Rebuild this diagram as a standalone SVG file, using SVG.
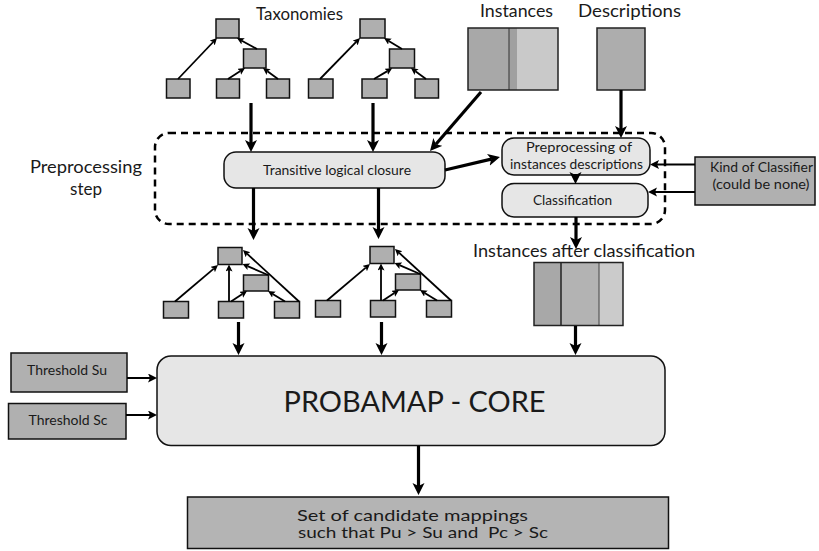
<svg xmlns="http://www.w3.org/2000/svg" width="819" height="551" viewBox="0 0 819 551">
<style>
text{font-family:Lato,"Liberation Sans",Arial,sans-serif;fill:#1a1a1a;}
.lbl{font-size:17.5px;}
.box{font-size:14px;}
.tn{fill:#afafaf;stroke:#111;stroke-width:1.5;}
.rb{fill:#e6e6e6;stroke:#111;stroke-width:1.5;}
.gb{fill:#b0b0b0;stroke:#111;stroke-width:1.5;}
.thin{stroke:#000;stroke-width:1.8;fill:none;marker-end:url(#sm);}
.thick{stroke:#000;stroke-width:3.2;fill:none;marker-end:url(#big);}
.med{stroke:#000;stroke-width:2;fill:none;marker-end:url(#md);}
</style>
<defs>
<marker id="big" markerUnits="userSpaceOnUse" markerWidth="13" markerHeight="13" refX="3" refY="6" orient="auto"><path d="M0,0 L12,6 L0,12 L3,6 z" fill="#000"/></marker>
<marker id="md" markerUnits="userSpaceOnUse" markerWidth="10" markerHeight="10" refX="2" refY="4.5" orient="auto"><path d="M0,0 L9,4.5 L0,9 L2,4.5 z" fill="#000"/></marker>
<marker id="sm" markerUnits="userSpaceOnUse" markerWidth="8" markerHeight="8" refX="1.5" refY="3.5" orient="auto"><path d="M0,0 L7,3.5 L0,7 L1.5,3.5 z" fill="#000"/></marker>
</defs>
<rect width="819" height="551" fill="#fff"/>

<!-- Preprocessing step dashed frame -->
<g id="preprocessing-step">
<rect x="155" y="133" width="510" height="91" rx="14" fill="none" stroke="#000" stroke-width="2.5" stroke-dasharray="7,5"/>
<text class="lbl" x="30" y="173" font-size="18" textLength="112" lengthAdjust="spacingAndGlyphs">Preprocessing</text>
<text class="lbl" x="70" y="195" font-size="18" textLength="32" lengthAdjust="spacingAndGlyphs">step</text>
</g>

<text class="lbl" x="256" y="20" font-size="17" textLength="87" lengthAdjust="spacingAndGlyphs">Taxonomies</text>

<!-- Taxonomy 1 -->
<g id="taxonomy1">
<rect id="t1-root" class="tn" x="216" y="19" width="23" height="19"/>
<rect id="t1-mid" class="tn" x="243.5" y="49" width="22.5" height="19"/>
<rect id="t1-b1" class="tn" x="166.5" y="79" width="23.5" height="19"/>
<rect id="t1-b2" class="tn" x="216.5" y="79" width="23" height="19"/>
<rect id="t1-b3" class="tn" x="266.5" y="79" width="23" height="19"/>
<line class="thin" x1="178" y1="79" x2="213.2" y2="42"/>
<line class="thin" x1="228" y1="79" x2="240.4" y2="71"/>
<line class="thin" x1="278" y1="79" x2="267.4" y2="71.3"/>
<line class="thin" x1="257" y1="49" x2="241.8" y2="40.7"/>
</g>

<!-- Taxonomy 2 -->
<g id="taxonomy2">
<rect id="t2-root" class="tn" x="360" y="19" width="25" height="19"/>
<rect id="t2-mid" class="tn" x="389.5" y="49" width="25" height="19"/>
<rect id="t2-b1" class="tn" x="308.5" y="79" width="24.5" height="19"/>
<rect id="t2-b2" class="tn" x="362" y="79" width="25" height="19"/>
<rect id="t2-b3" class="tn" x="415" y="79" width="23.5" height="19"/>
<line class="thin" x1="320" y1="79" x2="356.2" y2="41.9"/>
<line class="thin" x1="374" y1="79" x2="387.4" y2="71.1"/>
<line class="thin" x1="426" y1="79" x2="415.4" y2="71.3"/>
<line class="thin" x1="402" y1="49" x2="388.7" y2="40.9"/>
</g>

<!-- Instances -->
<g id="instances">
<text class="lbl" x="480" y="17" textLength="73" lengthAdjust="spacingAndGlyphs">Instances</text>
<rect x="468" y="28" width="41" height="62" fill="#a8a8a8"/>
<rect x="509" y="28" width="8" height="62" fill="#a0a0a0"/>
<rect x="517" y="28" width="41" height="62" fill="#c9c9c9"/>
<line x1="509" y1="28" x2="509" y2="90" stroke="#333" stroke-width="1"/>
<rect x="468" y="28" width="90" height="62" fill="none" stroke="#222" stroke-width="1.5"/>
</g>

<!-- Descriptions -->
<g id="descriptions">
<text class="lbl" x="578" y="17" textLength="103" lengthAdjust="spacingAndGlyphs">Descriptions</text>
<rect x="597" y="28" width="48" height="62" fill="#adadad" stroke="#222" stroke-width="1.5"/>
</g>

<!-- Transitive logical closure -->
<g id="transitive-closure">
<rect class="rb" x="224" y="152" width="221" height="36" rx="12"/>
<text class="box" x="263" y="175" textLength="148" lengthAdjust="spacingAndGlyphs">Transitive logical closure</text>
</g>

<!-- Preprocessing of instances descriptions -->
<g id="preprocessing-instances">
<rect class="rb" x="502" y="138" width="148" height="37" rx="12"/>
<text class="box" x="526" y="152" textLength="106" lengthAdjust="spacingAndGlyphs">Preprocessing of</text>
<text class="box" x="510" y="168.5" textLength="133" lengthAdjust="spacingAndGlyphs">instances descriptions</text>
</g>

<!-- Classification -->
<g id="classification">
<rect class="rb" x="502" y="183.5" width="146" height="33.5" rx="12"/>
<text class="box" x="533" y="205" textLength="79" lengthAdjust="spacingAndGlyphs">Classification</text>
</g>

<!-- Kind of classifier -->
<g id="kind-of-classifier">
<rect class="gb" x="695" y="157" width="120" height="48"/>
<text class="box" x="710" y="172" textLength="103" lengthAdjust="spacingAndGlyphs">Kind of Classifier</text>
<text class="box" x="712.5" y="188.5" textLength="97" lengthAdjust="spacingAndGlyphs">(could be none)</text>
</g>

<!-- Taxonomy 3 (after closure) -->
<g id="taxonomy3">
<rect id="t3-root" class="tn" x="218" y="247.5" width="24" height="17"/>
<rect id="t3-mid" class="tn" x="243.5" y="275" width="25" height="16"/>
<rect id="t3-b1" class="tn" x="163.5" y="301.5" width="25" height="16.5"/>
<rect id="t3-b2" class="tn" x="218.5" y="301.5" width="25" height="16.5"/>
<rect id="t3-b3" class="tn" x="274.5" y="301.5" width="25" height="16.5"/>
<line class="thin" x1="175" y1="301.5" x2="213.8" y2="268.6"/>
<line class="thin" x1="229" y1="301.5" x2="229" y2="270"/>
<line class="thin" x1="231" y1="301.5" x2="242.4" y2="294"/>
<line class="thin" x1="285" y1="301.5" x2="272.7" y2="293.9"/>
<line class="thin" x1="299" y1="301.5" x2="247" y2="253.7"/>
<line class="thin" x1="268" y1="275" x2="247.5" y2="266.2"/>
</g>

<!-- Taxonomy 4 (after closure) -->
<g id="taxonomy4" transform="translate(152,-1)">
<rect id="t4-root" class="tn" x="218" y="247.5" width="24" height="17"/>
<rect id="t4-mid" class="tn" x="243.5" y="275" width="25" height="16"/>
<rect id="t4-b1" class="tn" x="163.5" y="301.5" width="25" height="16.5"/>
<rect id="t4-b2" class="tn" x="218.5" y="301.5" width="25" height="16.5"/>
<rect id="t4-b3" class="tn" x="274.5" y="301.5" width="25" height="16.5"/>
<line class="thin" x1="175" y1="301.5" x2="213.8" y2="268.6"/>
<line class="thin" x1="229" y1="301.5" x2="229" y2="270"/>
<line class="thin" x1="231" y1="301.5" x2="242.4" y2="294"/>
<line class="thin" x1="285" y1="301.5" x2="272.7" y2="293.9"/>
<line class="thin" x1="299" y1="301.5" x2="247" y2="253.7"/>
<line class="thin" x1="268" y1="275" x2="247.5" y2="266.2"/>
</g>

<!-- Instances after classification -->
<g id="instances-after">
<text class="lbl" x="473" y="257" textLength="222" lengthAdjust="spacingAndGlyphs">Instances after classification</text>
<rect x="534" y="262.5" width="27" height="63" fill="#a8a8a8"/>
<rect x="561" y="262.5" width="38" height="63" fill="#b3b3b3"/>
<rect x="599" y="262.5" width="24" height="63" fill="#cbcbcb"/>
<line x1="561" y1="262.5" x2="561" y2="325.5" stroke="#222" stroke-width="1.5"/>
<line x1="599" y1="262.5" x2="599" y2="325.5" stroke="#444" stroke-width="1"/>
<rect x="534" y="262.5" width="89" height="63" fill="none" stroke="#222" stroke-width="1.5"/>
</g>

<!-- Thresholds -->
<g id="threshold-su">
<rect class="gb" x="11" y="353" width="116" height="39"/>
<text class="box" x="27" y="374.5" textLength="80" lengthAdjust="spacingAndGlyphs">Threshold Su</text>
</g>
<g id="threshold-sc">
<rect class="gb" x="8.5" y="403.5" width="117.5" height="35.5"/>
<text class="box" x="28.5" y="424.5" textLength="79" lengthAdjust="spacingAndGlyphs">Threshold Sc</text>
</g>

<!-- Core -->
<g id="probamap-core">
<rect class="rb" x="157" y="356" width="508" height="89.5" rx="14"/>
<text x="283.5" y="411.5" font-size="29" textLength="262" lengthAdjust="spacingAndGlyphs">PROBAMAP - CORE</text>
</g>

<!-- Output -->
<g id="candidate-mappings">
<rect x="187.5" y="497" width="481" height="51.5" fill="#b4b4b4" stroke="#111" stroke-width="1.5"/>
<text x="297" y="520.5" font-size="16" textLength="231" lengthAdjust="spacingAndGlyphs">Set of candidate mappings</text>
<text x="298" y="538" font-size="16" textLength="250" lengthAdjust="spacingAndGlyphs" xml:space="preserve">such that Pu &gt; Su and  Pc &gt; Sc</text>
</g>

<!-- Connectors -->
<g id="connectors">
<line class="thick" x1="251" y1="103" x2="251" y2="143"/>
<line class="thick" x1="373" y1="103" x2="373" y2="143"/>
<line class="thick" x1="481" y1="92" x2="435.9" y2="144.2"/>
<line class="thick" x1="621" y1="90" x2="621" y2="129"/>
<line class="thick" x1="445" y1="170" x2="491.2" y2="159.1"/>
<line class="thick" x1="575.5" y1="174" x2="575.5" y2="175"/>
<line class="thick" x1="253.5" y1="188" x2="253.5" y2="231"/>
<line class="thick" x1="378.5" y1="188" x2="378.5" y2="230"/>
<line class="thick" x1="576" y1="217" x2="576" y2="240"/>
<line class="med" x1="695" y1="164.5" x2="657" y2="164.5"/>
<line class="med" x1="695" y1="192" x2="655" y2="192"/>
<line class="thick" x1="238.5" y1="322" x2="238.5" y2="346"/>
<line class="thick" x1="381.5" y1="322" x2="381.5" y2="346"/>
<line class="thick" x1="575.5" y1="326" x2="575.5" y2="346"/>
<line class="med" x1="127" y1="378" x2="150" y2="378"/>
<line class="med" x1="126" y1="415" x2="150" y2="415"/>
<line class="thick" x1="418.5" y1="446" x2="418.5" y2="486"/>
</g>
</svg>
